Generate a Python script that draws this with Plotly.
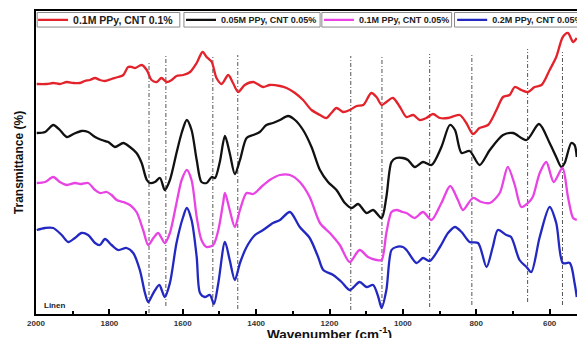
import plotly.graph_objects as go

# ---------------- data ----------------
series_names = ["0.1M PPy, CNT 0.1%", "0.05M PPy, CNT 0.05%",
                "0.1M PPy, CNT 0.05%", "0.2M PPy, CNT 0.05%"]
series_colors = ["#e3232b", "#111111", "#e844e4", "#2228c0"]

red_x = [1998, 1971, 1953, 1935, 1916, 1898, 1880, 1867, 1853, 1839, 1826, 1812, 1794, 1776, 1762,
         1749, 1739, 1730, 1712, 1698, 1685, 1671, 1658, 1644, 1630, 1617, 1599, 1580, 1562, 1546,
         1535, 1521, 1508, 1494, 1476, 1463, 1449, 1431, 1408, 1381, 1363, 1335, 1317, 1294, 1272,
         1249, 1226, 1208, 1195, 1181, 1163, 1145, 1126, 1108, 1086, 1072, 1058, 1045, 1027, 1008,
         990, 972, 954, 936, 918, 899, 877, 845, 827, 809, 791, 768, 745, 727, 709, 695, 677, 659,
         641, 622, 600, 582, 564, 550, 536, 526]
red_y = [230, 230, 231, 230, 232, 231, 231, 233, 234, 236, 234, 233, 235, 237, 239,
         247, 247, 246, 249, 244, 234, 232, 236, 232, 234, 238, 239, 242, 251, 262,
         257, 252, 236, 230, 239, 231, 222, 229, 232, 227, 229, 228, 226, 221, 214,
         204, 199, 196, 201, 206, 202, 204, 208, 209, 221, 217, 209, 212, 216, 207,
         197, 199, 194, 196, 200, 196, 196, 199, 191, 180, 186, 189, 204, 217, 219, 227, 224, 222,
         227, 229, 244, 257, 277, 281, 272, 276]

black_x = [1998, 1975, 1953, 1935, 1916, 1898, 1876, 1858, 1839, 1821, 1803, 1785, 1762, 1744, 1726,
           1712, 1698, 1689, 1676, 1662, 1649, 1635, 1617, 1603, 1589, 1576, 1562, 1549, 1535, 1521,
           1512, 1499, 1485, 1472, 1458, 1444, 1426, 1408, 1390, 1372, 1354, 1335, 1313, 1294, 1272,
           1249, 1226, 1204, 1181, 1158, 1140, 1122, 1099, 1081, 1058, 1045, 1031, 1018, 1000, 986,
           968, 945, 922, 895, 872, 858, 840, 818, 791, 763, 727, 700, 663, 629, 600, 582, 568, 559,
           541, 532, 526]
black_y = [181, 182, 189, 184, 177, 180, 183, 182, 177, 174, 172, 167, 171, 167, 161,
           151, 134, 131, 132, 136, 124, 134, 161, 181, 194, 184, 154, 132, 131, 137,
           136, 152, 178, 161, 140, 154, 176, 179, 182, 189, 191, 194, 198, 194, 184,
           167, 144, 132, 124, 111, 106, 110, 101, 104, 96, 117, 152, 156, 156, 154,
           147, 152, 149, 167, 189, 184, 161, 163, 149, 164, 179, 181, 174, 190, 171, 157, 147, 151,
           171, 169, 157]

magenta_x = [1998, 1975, 1953, 1935, 1916, 1894, 1876, 1858, 1839, 1826, 1807, 1794, 1780, 1762, 1744,
             1726, 1708, 1694, 1680, 1667, 1649, 1635, 1617, 1603, 1589, 1576, 1562, 1549, 1535, 1517,
             1503, 1490, 1485, 1472, 1458, 1444, 1426, 1408, 1386, 1363, 1335, 1308, 1281, 1254, 1226,
             1199, 1172, 1145, 1118, 1095, 1072, 1058, 1045, 1031, 1018, 1000, 990, 968, 945, 922,
             895, 871, 850, 836, 809, 786, 763, 736, 714, 695, 677, 659, 646, 627, 609, 589, 565, 550,
             536, 526]
magenta_y = [131, 132, 137, 132, 129, 131, 130, 131, 124, 121, 122, 119, 114, 112, 109,
             102, 84, 69, 76, 81, 71, 81, 111, 134, 144, 134, 97, 74, 67, 69,
             84, 111, 121, 104, 87, 104, 121, 120, 127, 134, 139, 139, 132, 117, 91,
             81, 69, 52, 64, 57, 54, 54, 81, 102, 104, 102, 101, 96, 102, 94,
             111, 128, 114, 104, 116, 112, 111, 121, 147, 129, 107, 111, 117, 141, 152, 132, 146, 117,
             96, 94]

blue_x = [1998, 1975, 1953, 1930, 1912, 1894, 1876, 1858, 1839, 1826, 1812, 1794, 1776, 1753, 1735,
          1717, 1703, 1694, 1680, 1664, 1649, 1635, 1617, 1599, 1589, 1576, 1562, 1553, 1540, 1526,
          1515, 1503, 1485, 1472, 1458, 1444, 1426, 1403, 1381, 1354, 1335, 1308, 1281, 1254, 1231,
          1217, 1190, 1167, 1145, 1118, 1099, 1081, 1067, 1058, 1045, 1031, 1018, 1000, 990, 963,
          945, 927, 899, 877, 858, 840, 818, 795, 772, 755, 741, 718, 705, 682, 663, 650, 627, 600,
          582, 564, 545, 532, 526]
blue_y = [84, 86, 86, 79, 72, 76, 81, 79, 71, 69, 75, 69, 64, 66, 61,
          44, 21, 12, 21, 29, 17, 31, 71, 97, 106, 94, 57, 21, 17, 19,
          10, 31, 72, 54, 34, 51, 67, 79, 84, 91, 94, 102, 87, 76, 57,
          44, 39, 32, 24, 32, 27, 29, 17, 6, 24, 64, 67, 67, 64, 51,
          56, 53, 67, 81, 87, 82, 72, 71, 47, 67, 84, 79, 77, 54, 47, 42, 77, 107,
          91, 51, 51, 31, 17]

# marked band positions (dash-dot guide lines) with their vertical extents
band_pos = [1692, 1646, 1518, 1450, 1142, 1057, 927, 812, 660, 565]
band_top = [251, 259, 259, 259, 258, 257, 260, 261, 265, 262]
band_bottom = [1, 8, 7, 5, 4, 7, 7, 9, 12, 9]

x_tick_vals = [2000, 1800, 1600, 1400, 1200, 1000, 800, 600]
x_tick_text = ["2000", "1800", "1600", "1400", "1200", "1000", "800", "600"]

FONT = "Liberation Sans, Arial, sans-serif"

xs = [red_x, black_x, magenta_x, blue_x]
ys = [red_y, black_y, magenta_y, blue_y]
legend_ids = ["legend", "legend2", "legend3", "legend4"]
legend_x = [-0.005, 0.247, 0.482, 0.709]
legend_sizes = [10.5, 9, 9, 9]
legend_frames = [(0.002, 0.245), (0.252, 0.484), (0.487, 0.708), (0.713, 1.0)]

fig = go.Figure()

# guide lines
for p, t, b in zip(band_pos, band_top, band_bottom):
    fig.add_shape(type="line", x0=p, x1=p, y0=b, y1=t, xref="x", yref="y",
                  line=dict(color="#555555", width=1, dash="4px,2px,1px,2px"), layer="below")

# individual legend frames
for x0, x1 in legend_frames:
    fig.add_shape(type="rect", xref="paper", yref="paper", x0=x0, x1=x1, y0=0.947, y1=0.995,
                  line=dict(color="#8a8a8a", width=1), fillcolor="white", layer="above")

for name, col, x, y, lg in zip(series_names, series_colors, xs, ys, legend_ids):
    fig.add_trace(go.Scatter(x=x, y=y, mode="lines", name=name,
                             line=dict(color=col, width=2.3, shape="spline", smoothing=0.8),
                             legend=lg))

def legend_box(xpos, size):
    return dict(x=xpos, xanchor="left", y=0.971, yanchor="middle", orientation="h",
                bgcolor="rgba(0,0,0,0)", borderwidth=0,
                font=dict(family=FONT, size=size, color="#222222", weight="bold"),
                itemwidth=30, tracegroupgap=0)

fig.update_layout(
    width=640, height=342,
    margin=dict(l=36, r=17, t=11, b=28, autoexpand=False),
    paper_bgcolor="white", plot_bgcolor="white",
    showlegend=True,
    legend=legend_box(legend_x[0], legend_sizes[0]),
    legend2=legend_box(legend_x[1], legend_sizes[1]),
    legend3=legend_box(legend_x[2], legend_sizes[2]),
    legend4=legend_box(legend_x[3], legend_sizes[3]),
    font=dict(family=FONT, color="#222222"),
)

fig.update_xaxes(
    range=[2000, 400], tickvals=x_tick_vals, ticktext=x_tick_text, automargin=False,
    ticks="inside", ticklen=5, tickwidth=1.5, tickcolor="black",
    minor=dict(dtick=100, tick0=2000, ticks="inside", ticklen=3, tickcolor="black"),
    tickfont=dict(family=FONT, size=8, color="#333333", weight="bold"),
    showline=True, linecolor="black", linewidth=2, mirror=True,
    showgrid=False, zeroline=False,
    title=dict(text="Wavenumber (cm<sup>-1</sup>)", standoff=0,
               font=dict(family=FONT, size=13.5, color="#111111", weight="bold")),
)
fig.update_yaxes(
    range=[0, 303], showticklabels=False, ticks="", automargin=False,
    showline=True, linecolor="black", linewidth=2, mirror=True,
    showgrid=False, zeroline=False,
    title=dict(text="Transmittance (%)", standoff=8,
               font=dict(family=FONT, size=12, color="#111111", weight="bold")),
)

fig.add_annotation(x=1985, y=9, xref="x", yref="y", text="Linen", showarrow=False,
                   xanchor="left", yanchor="middle",
                   font=dict(family=FONT, size=8, color="#222222", weight="bold"))

fig.write_html("out.html",
               post_script="document.documentElement.style.overflow='hidden';"
                           "document.body.style.overflow='hidden';"
                           "document.body.style.margin='0';")
